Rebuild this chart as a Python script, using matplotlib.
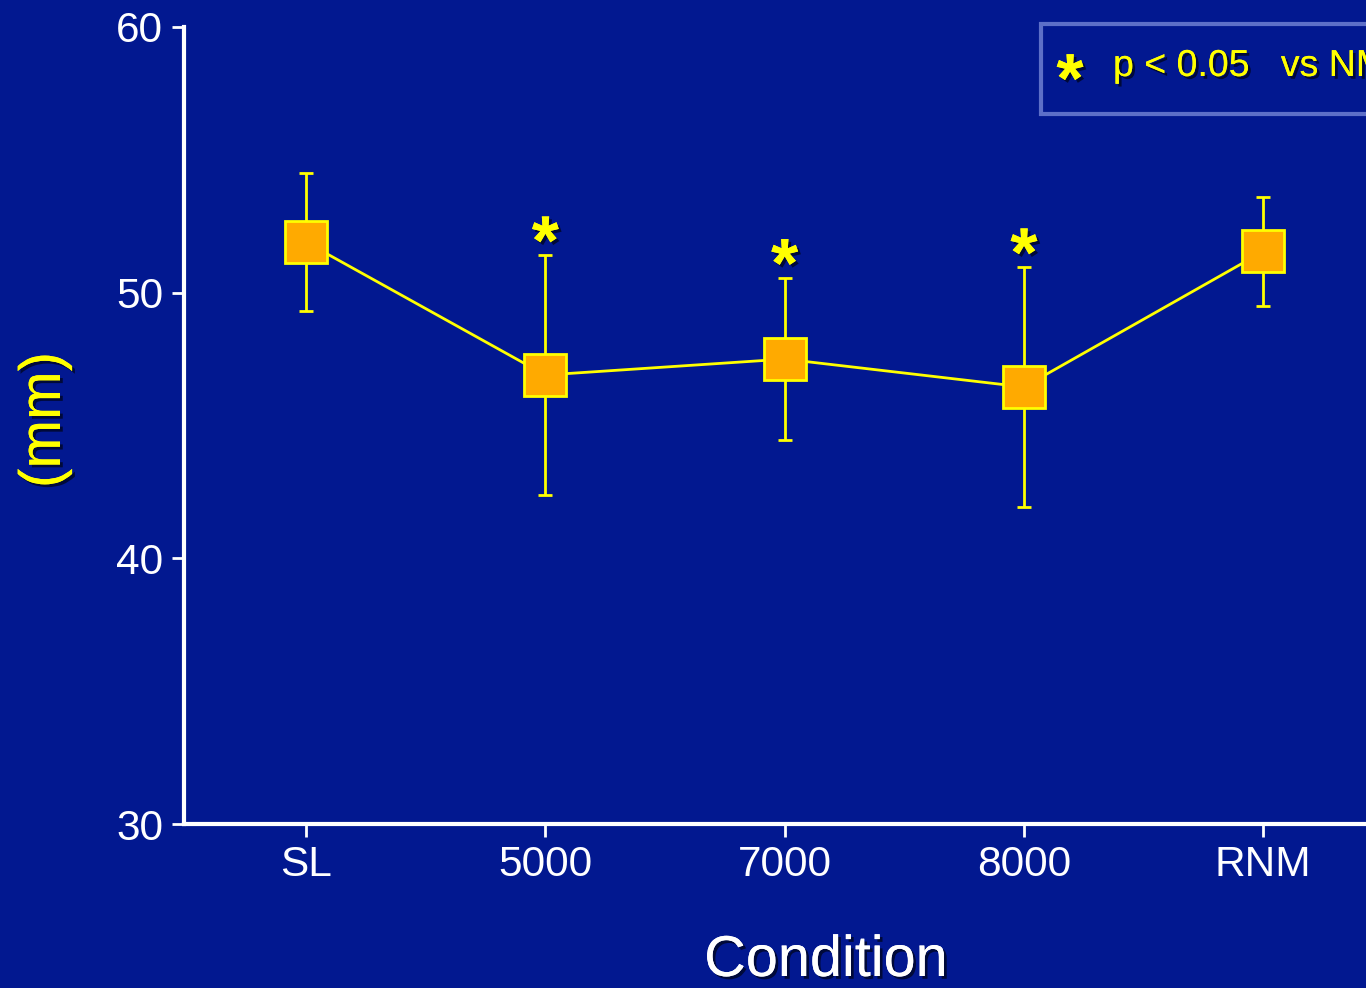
import matplotlib.pyplot as plt
import matplotlib.patheffects as pe
from matplotlib.patches import Rectangle

conditions = ["SL", "5000", "7000", "8000", "RNM"]
mean_mm = [51.9, 46.9, 47.5, 46.45, 51.55]
sd_mm = [2.6, 4.5, 3.05, 4.5, 2.05]
significant = [False, True, True, True, False]

bg = "#021890"
yellow = "#ffff00"
plt.rcParams['font.family'] = ['Liberation Sans', 'DejaVu Sans']

fig = plt.figure(figsize=(13.66, 9.88), dpi=100, facecolor=bg)
ax = fig.add_axes([184 / 1366, 1 - 824 / 988, 1230 / 1366, 797 / 988])
ax.set_facecolor(bg)

x = list(range(len(conditions)))
ax.errorbar(x, mean_mm, yerr=sd_mm, color=yellow, lw=2, elinewidth=2,
            capsize=5, capthick=2, marker="s", markersize=30,
            markerfacecolor="#ffaa00", markeredgecolor=yellow,
            markeredgewidth=2)

shadow = [pe.withSimplePatchShadow(offset=(2, -2), alpha=0.6, shadow_rgbFace="black"), pe.Normal()]
for xi, m, s, sig in zip(x, mean_mm, sd_mm, significant):
    if sig:
        ax.text(xi, m + s - 0.33, "*", color=yellow, fontsize=50, ha="center",
                va="baseline", fontweight="bold", path_effects=shadow)

ax.set_xlim(-0.51, 4.63)
ax.set_ylim(30, 60)
ax.set_yticks([30, 40, 50, 60])
ax.set_xticks(x)
ax.set_xticklabels(conditions)
for side in ["top", "right"]:
    ax.spines[side].set_visible(False)
for side in ["left", "bottom"]:
    ax.spines[side].set_color("white")
    ax.spines[side].set_linewidth(3)
ax.tick_params(colors="white", labelsize=30.5, length=9, width=2, pad=6)

fig.text(826 / 1366, 1 - 961 / 988, "Condition", color="white", fontsize=41.5,
         ha="center", va="center", path_effects=shadow)
fig.text(45 / 1366, 1 - 420 / 988, "(mm)", color=yellow, fontsize=42,
         rotation=90, ha="center", va="center", path_effects=shadow)

# legend box
fig.patches.append(Rectangle((1041 / 1366, 1 - 114 / 988), 0.3, 90 / 988,
                             transform=fig.transFigure, facecolor=bg,
                             edgecolor="#5d6fc8", lw=3))
fig.text(1070 / 1366, 1 - 102 / 988, "*", color=yellow, fontsize=50,
         fontweight="bold", ha="center", va="baseline", path_effects=shadow)
fig.text(1113 / 1366, 1 - 66 / 988, "p < 0.05   vs NM", color=yellow,
         fontsize=27, ha="left", va="center", path_effects=shadow)

fig.savefig("out.png", dpi=100, facecolor=bg)
